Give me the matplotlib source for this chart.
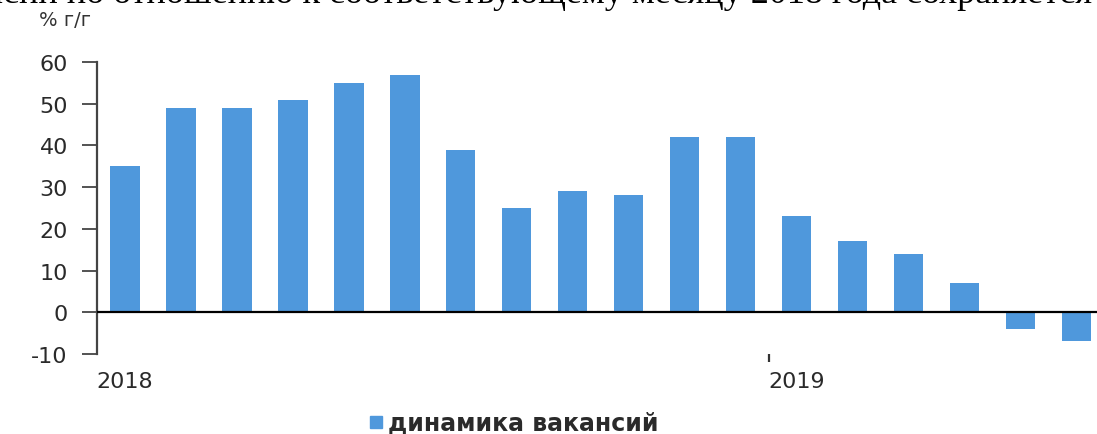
import numpy as np
import matplotlib.pyplot as plt
from matplotlib.patches import Rectangle

# --- data ---
months = list(range(18))  # Jan 2018 .. Jun 2019
vacancies = [35, 49, 49, 51, 55, 57, 39, 25, 29, 28, 42, 42, 23, 17, 14, 7, -4, -7]
y_ticks = [-10, 0, 10, 20, 30, 40, 50, 60]
year_labels = ["2018", "2019"]
year_pos = [0, 12]

BAR_COLOR = "#4f98dc"
TXT = "#2a2a2a"

plt.rcParams["font.family"] = ["DejaVu Sans"]

fig = plt.figure(figsize=(10.97, 4.35), dpi=100)
ax = fig.add_axes([97 / 1097, 1 - 355 / 435, 1000 / 1097, (355 - 63) / 435])

ax.bar(months, vacancies, width=0.52, color=BAR_COLOR, zorder=2)

ax.set_xlim(-0.5, 17.36)
ax.set_ylim(-10, 60)
ax.set_yticks(y_ticks)
ax.set_yticklabels([str(t) for t in y_ticks], fontsize=16, color=TXT)
ax.tick_params(axis="y", direction="out", length=11, width=1.3, color="#444444", pad=10)

# x-axis: only the year divider tick, labels placed as text below
ax.set_xticks([11.5])
ax.set_xticklabels([""])
ax.tick_params(axis="x", direction="out", length=6, width=1.6, color="#333333")
for lab, p in zip(year_labels, year_pos):
    ax.text(p, -16.5, lab, ha="center", va="center", fontsize=16, color=TXT)

for s in ["top", "right", "bottom"]:
    ax.spines[s].set_visible(False)
ax.spines["left"].set_color("#444444")
ax.spines["left"].set_linewidth(1.6)
ax.axhline(0, color="black", lw=1.6, zorder=3)

# unit label
fig.text(65 / 1097, 1 - 21 / 435, "% г/г", fontsize=14, color="#333333",
         ha="center", va="center")

# legend
fig.patches.append(Rectangle((370 / 1097, 1 - 429 / 435), 12 / 1097, 12 / 435,
                             transform=fig.transFigure, color=BAR_COLOR))
fig.text(388 / 1097, 1 - 423 / 435, "динамика вакансий", fontsize=17, color=TXT,
         fontweight="bold", ha="left", va="center")

# clipped caption line at the very top (only its lower part shows in the reference)
fig.text(1092 / 1097, 1 - 3 / 435,
         "Рост числа вакансий по отношению к соответствующему месяцу 2018 года сохраняется",
         ha="right", va="baseline", fontsize=26, family="Liberation Serif", color="black")

fig.savefig("out.png", dpi=100)
